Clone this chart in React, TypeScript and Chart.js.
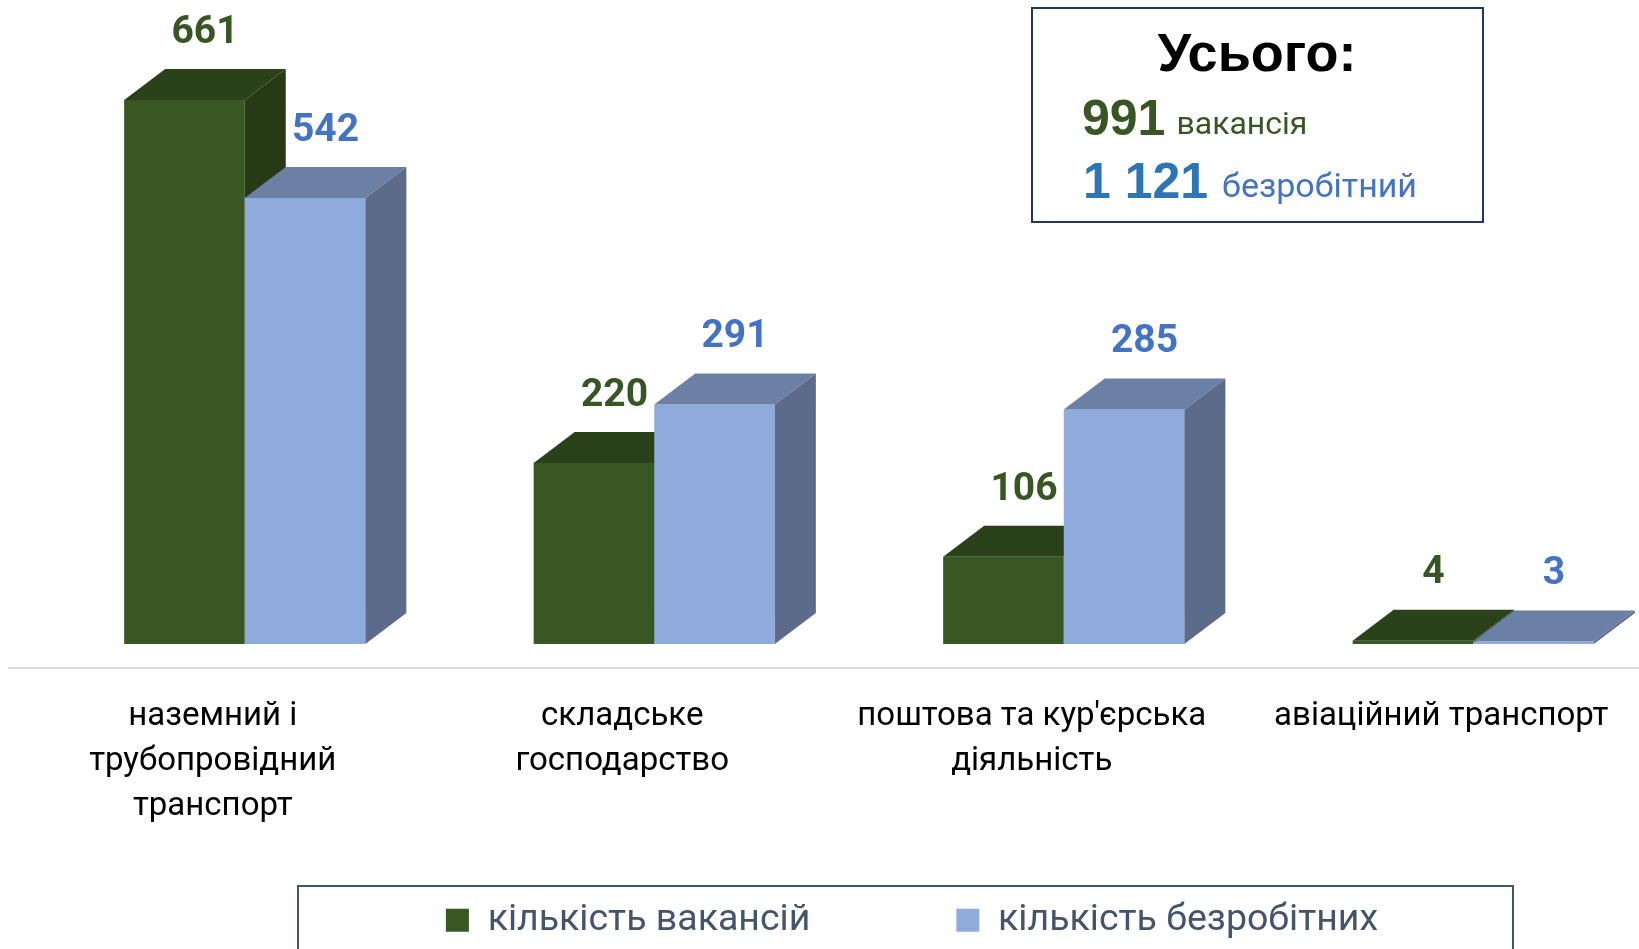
import React, { useEffect, useRef } from 'react';
import { Chart, registerables } from 'chart.js';

Chart.register(...registerables);

// ---- data ----
const categories: string[][] = [
  ['наземний і', 'трубопровідний', 'транспорт'],
  ['складське', 'господарство'],
  ["поштова та кур'єрська", 'діяльність'],
  ['авіаційний транспорт'],
];
const vacancies: number[] = [661, 220, 106, 4];
const unemployed: number[] = [542, 291, 285, 3];
const seriesNames: string[] = ['кількість вакансій', 'кількість безробітних'];
const totalTitle = 'Усього:';
const totalVacWord = 'вакансія';
const totalUnempWord = 'безробітний';

// ---- styles ----
const FONT = 'Roboto';
const faces = [
  { front: '#385723', top: '#2B4119', side: '#263A16', label: '#375623' },
  { front: '#8FABDB', top: '#6C80A6', side: '#5D6B8B', label: '#4472C4' },
];
const DX = 41; // 3D depth x
const DY = 31; // 3D depth y
const SX = 32; // perspective shift of bars relative to category labels
const PLOT_BOTTOM = 644;
const LABEL_GAP = 50;

const fmt = (n: number) => String(n).replace(/\B(?=(\d{3})+(?!\d))/g, ' ');

function poly(ctx: CanvasRenderingContext2D, pts: number[][]) {
  ctx.beginPath();
  ctx.moveTo(pts[0][0], pts[0][1]);
  for (let k = 1; k < pts.length; k++) ctx.lineTo(pts[k][0], pts[k][1]);
  ctx.closePath();
  ctx.fill();
}

const bars3d = {
  id: 'bars3d',
  afterLayout(chart: any) {
    if (chart.legend) {
      chart.legend.left += 85;
      chart.legend.right += 85;
    }
    const xs = chart.scales.x;
    if (xs) {
      xs.top += LABEL_GAP;
      xs.bottom = chart.height;
    }
  },
  beforeDatasetsDraw(chart: any) {
    const ctx: CanvasRenderingContext2D = chart.ctx;
    ctx.save();
    // floor / axis line
    const yLine = chart.chartArea.bottom + 24;
    ctx.strokeStyle = '#D9DDE3';
    ctx.lineWidth = 2;
    ctx.beginPath();
    ctx.moveTo(8, yLine);
    ctx.lineTo(1639, yLine);
    ctx.stroke();

    const n = chart.data.labels.length;
    const nd = chart.data.datasets.length;
    for (let i = 0; i < n; i++) {
      for (let d = 0; d < nd; d++) {
        const el = chart.getDatasetMeta(d).data[i];
        const { x, y, base, width } = el.getProps(['x', 'y', 'base', 'width'], true);
        const L = x - width / 2 + SX;
        const R = x + width / 2 + SX;
        const f = faces[d];
        ctx.fillStyle = f.front;
        ctx.fillRect(L, y, R - L, base - y);
        ctx.fillStyle = f.top;
        poly(ctx, [[L, y], [L + DX, y - DY], [R + DX, y - DY], [R, y]]);
        ctx.fillStyle = f.side;
        poly(ctx, [[R, y], [R + DX, y - DY], [R + DX, base - DY], [R, base]]);
      }
    }
    // value labels
    ctx.font = `bold 39px ${FONT}`;
    ctx.textAlign = 'center';
    ctx.textBaseline = 'middle';
    for (let d = 0; d < nd; d++) {
      const meta = chart.getDatasetMeta(d);
      const vals = chart.data.datasets[d].data;
      meta.data.forEach((el: any, i: number) => {
        const { x, y } = el.getProps(['x', 'y'], true);
        ctx.fillStyle = faces[d].label;
        ctx.fillText(String(vals[i]), x + SX + DX / 2, y - DY - 36);
      });
    }
    ctx.restore();
    return false;
  },
  afterDraw(chart: any) {
    const ctx: CanvasRenderingContext2D = chart.ctx;
    ctx.save();
    // legend frame
    ctx.strokeStyle = '#44546A';
    ctx.lineWidth = 2;
    ctx.strokeRect(298, 886, 1215, 100);

    // totals box
    ctx.strokeStyle = '#1F3864';
    ctx.lineWidth = 2;
    ctx.strokeRect(1032, 8, 451, 214);
    ctx.fillStyle = '#000000';
    ctx.font = 'bold 54px "Liberation Sans"';
    ctx.textAlign = 'center';
    ctx.textBaseline = 'alphabetic';
    ctx.fillText(totalTitle, 1257, 71);

    const totV = vacancies.reduce((a, b) => a + b, 0);
    const totU = unemployed.reduce((a, b) => a + b, 0);
    ctx.textAlign = 'left';

    ctx.font = 'bold 50px "Liberation Sans"';
    ctx.fillStyle = '#375623';
    const s1 = fmt(totV);
    ctx.fillText(s1, 1082, 135);
    const w1 = ctx.measureText(s1).width;
    ctx.font = `32px ${FONT}`;
    ctx.fillText(totalVacWord, 1082 + w1 + 11, 134);

    ctx.font = 'bold 50px "Liberation Sans"';
    ctx.fillStyle = '#2E75B6';
    const s2 = fmt(totU);
    ctx.fillText(s2, 1083, 198);
    const w2 = ctx.measureText(s2).width;
    ctx.font = `34px ${FONT}`;
    ctx.fillStyle = '#4472C4';
    ctx.fillText(totalUnempWord, 1083 + w2 + 14, 197);
    ctx.restore();
  },
};

export default function App() {
  const ref = useRef<HTMLCanvasElement | null>(null);

  useEffect(() => {
    document.body.style.margin = '0';
    if (!ref.current) return;
    const chart = new Chart(ref.current, {
      type: 'bar',
      data: {
        labels: categories as any,
        datasets: [
          { label: seriesNames[0], data: vacancies, backgroundColor: faces[0].front, borderWidth: 0 },
          { label: seriesNames[1], data: unemployed, backgroundColor: faces[1].front, borderWidth: 0 },
        ],
      },
      options: {
        responsive: false,
        animation: false,
        events: [],
        layout: { padding: { top: 2, left: 8, right: 0, bottom: 0 } },
        datasets: { bar: { categoryPercentage: 0.589, barPercentage: 1 } } as any,
        scales: {
          x: {
            grid: { display: false, drawTicks: false },
            border: { display: false },
            ticks: {
              autoSkip: false,
              maxRotation: 0,
              minRotation: 0,
              padding: 0,
              color: '#000000',
              font: { family: FONT, size: 33, lineHeight: '45px' } as any,
            },
            afterFit: (scale: any) => {
              const lg = scale.chart.legend;
              scale.height = scale.chart.height - PLOT_BOTTOM - (lg ? lg.height : 0);
            },
          },
          y: { display: false, min: 0, max: 780 },
        },
        plugins: {
          legend: {
            position: 'bottom',
            labels: {
              color: '#44546A',
              font: { family: FONT, size: 37.5 },
              boxWidth: 23,
              boxHeight: 23,
              padding: 146,
            },
          },
          tooltip: { enabled: false },
        },
      },
      plugins: [bars3d as any],
    });
    return () => chart.destroy();
  }, []);

  return (
    <div style={{ width: 1639, height: 949, overflow: 'hidden', background: '#fff' }}>
      <canvas ref={ref} width={1646} height={949} style={{ display: 'block' }} />
    </div>
  );
}
